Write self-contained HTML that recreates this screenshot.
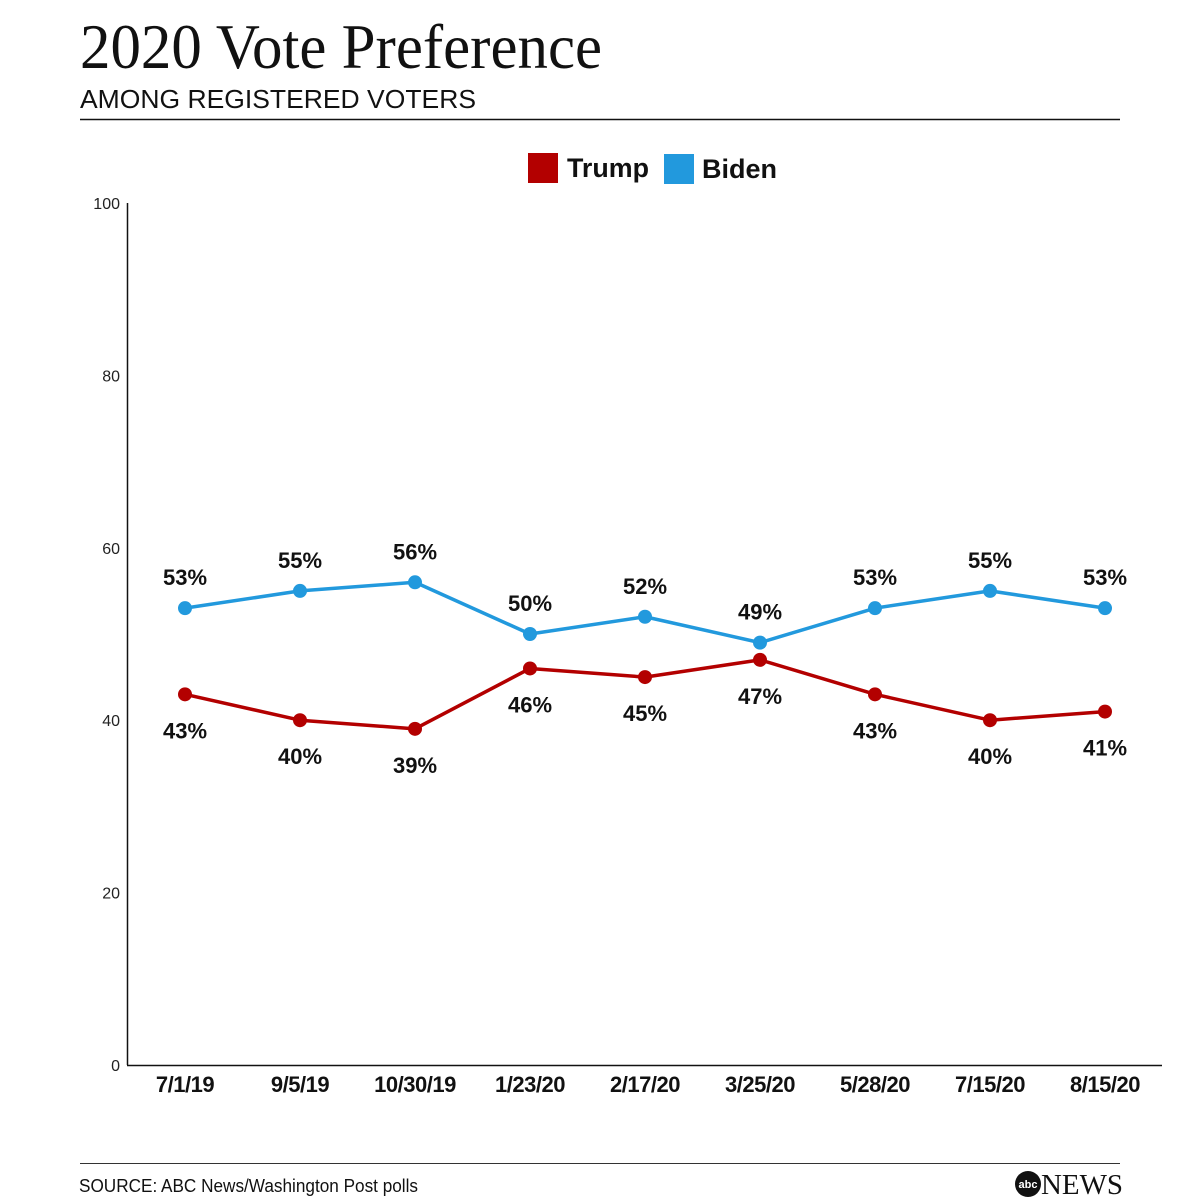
<!DOCTYPE html>
<html><head><meta charset="utf-8"><style>
html,body{margin:0;padding:0;background:#fff;}
svg{display:block;}
</style></head><body>
<svg id="chart" width="1200" height="1200" viewBox="0 0 1200 1200" xmlns="http://www.w3.org/2000/svg">
  <text x="80" y="68" font-family="Liberation Serif, serif" font-size="64" textLength="522" lengthAdjust="spacingAndGlyphs" fill="#111">2020 Vote Preference</text>
  <text x="80" y="108" font-family="Liberation Sans, sans-serif" font-size="26" textLength="396" lengthAdjust="spacingAndGlyphs" fill="#111">AMONG REGISTERED VOTERS</text>
  <line x1="80" y1="119.5" x2="1120" y2="119.5" stroke="#111" stroke-width="1.5"/>
  <g>
    <rect x="528" y="153" width="30" height="30" fill="#b30000"/>
    <text x="567" y="177" font-family="Liberation Sans, sans-serif" font-weight="bold" font-size="27" textLength="82" lengthAdjust="spacingAndGlyphs" fill="#111">Trump</text>
    <rect x="664" y="154" width="30" height="30" fill="#2299dd"/>
    <text x="702" y="178" font-family="Liberation Sans, sans-serif" font-weight="bold" font-size="27" textLength="75" lengthAdjust="spacingAndGlyphs" fill="#111">Biden</text>
  </g>
  <g id="axes"></g>
  <g id="series"></g>
  <line x1="80" y1="1163.5" x2="1120" y2="1163.5" stroke="#333" stroke-width="1"/>
  <text x="79" y="1192" font-family="Liberation Sans, sans-serif" font-size="18" textLength="339" lengthAdjust="spacingAndGlyphs" fill="#111">SOURCE: ABC News/Washington Post polls</text>
  <g>
    <circle cx="1028" cy="1184" r="13" fill="#111"/>
    <text x="1028" y="1188" text-anchor="middle" font-family="Liberation Sans, sans-serif" font-weight="bold" font-size="11" fill="#fff">abc</text>
    <text x="1041" y="1194" font-family="Liberation Serif, serif" font-size="28" textLength="82" lengthAdjust="spacingAndGlyphs" fill="#111">NEWS</text>
  </g>
</svg>
<script>
const categories = ["7/1/19","9/5/19","10/30/19","1/23/20","2/17/20","3/25/20","5/28/20","7/15/20","8/15/20"];
const trumpValues = [43,40,39,46,45,47,43,40,41];
const bidenValues = [53,55,56,50,52,49,53,55,53];
const yTicks = [0,20,40,60,80,100];

const NS = "http://www.w3.org/2000/svg";
const x0 = 185, xStep = 115, yBase = 1065, yTop = 203;
function xScale(i){ return x0 + i*xStep; }
function yScale(v){ return yBase - v/100*(yBase - yTop); }
function mk(tag, attrs, parent){ const e=document.createElementNS(NS,tag); for(const k in attrs) e.setAttribute(k,attrs[k]); parent.appendChild(e); return e; }

const axes = document.getElementById("axes");
const yAxis = mk("line",{x1:127.5,y1:yTop,x2:127.5,y2:yBase,stroke:"#111","stroke-width":1.5},axes);


const xAxis = mk("line",{x1:127,y1:yBase+0.5,x2:1162,y2:yBase+0.5,stroke:"#111","stroke-width":1.5},axes);


yTicks.forEach(v=>{
  const t = mk("text",{x:120,y:yScale(v)+6,"text-anchor":"end","font-family":"Liberation Sans, sans-serif","font-size":16,fill:"#222"},axes);
  t.textContent = v;
  
  
});
categories.forEach((c,i)=>{
  const t = mk("text",{x:xScale(i),y:1092,"text-anchor":"middle","font-family":"Liberation Sans, sans-serif","font-weight":"bold","font-size":22,"letter-spacing":"-0.5",fill:"#111"},axes);
  t.textContent = c;
  
  
});

const series = document.getElementById("series");
function drawSeries(vals, color, name, above){
  const pts = vals.map((v,i)=>xScale(i)+","+yScale(v)).join(" ");
  const pl = mk("polyline",{points:pts,fill:"none",stroke:color,"stroke-width":3.5,"stroke-linejoin":"round"},series);
  
  
  vals.forEach((v,i)=>{
    const c = mk("circle",{cx:xScale(i),cy:yScale(v),r:7,fill:color},series);
    
    
    const t = mk("text",{x:xScale(i),y:above?yScale(v)-23:yScale(v)+44,"text-anchor":"middle","font-family":"Liberation Sans, sans-serif","font-weight":"bold","font-size":22,fill:"#111"},series);
    t.textContent = v+"%";
    
    
  });
}
drawSeries(bidenValues,"#2299dd","biden",true);
drawSeries(trumpValues,"#b30000","trump",false);
</script>
</body></html>
